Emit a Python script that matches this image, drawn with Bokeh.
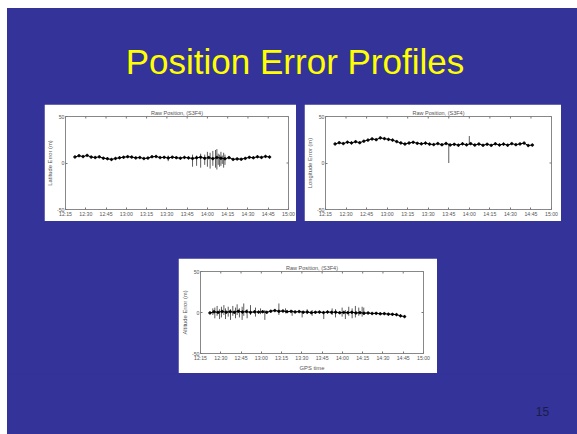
from math import pi
from bokeh.plotting import figure
from bokeh.layouts import column, row
from bokeh.models import Spacer, FixedTicker
from bokeh.embed import file_html
from bokeh.resources import INLINE
from bokeh.core.properties import value

# ---------------- data ----------------
slide_title = "Position Error Profiles"
panel_title = "Raw Position, (S3F4)"
page_number = "15"

# time in minutes after midnight
x_ticks = [735, 750, 765, 780, 795, 810, 825, 840, 855, 870, 885, 900]
x_tick_labels = ["12:15", "12:30", "12:45", "13:00", "13:15", "13:30",
                 "13:45", "14:00", "14:15", "14:30", "14:45", "15:00"]
y_ticks = [-50, 0, 50]
y_tick_labels = ["-50", "0", "50"]

times = [742, 745, 748, 751, 754, 757, 760, 763, 766, 769, 772, 775, 778,
         781, 784, 787, 790, 793, 796, 799, 802, 805, 808, 811, 814, 817,
         820, 823, 826, 829, 832, 835, 838, 841, 844, 847, 850, 853, 856,
         859, 862, 865, 868, 871, 874, 877, 880, 883, 886]

lat_err = [6.5, 7.8, 6.9, 8.2, 6.4, 5.9, 6.6, 5.2, 4.6, 3.8, 4.9, 5.6, 6.2,
           6.8, 6.4, 5.5, 5.9, 4.8, 5.3, 6.7, 7.0, 5.8, 6.1, 5.4, 6.3, 5.7,
           5.2, 6.0, 5.5, 4.9, 5.6, 6.2, 5.1, 5.8, 4.7, 5.9, 5.2, 4.6, 5.8,
           3.9, 4.4, 4.1, 5.0, 6.1, 5.6, 6.7, 6.0, 7.1, 6.4]
lat_spike_t = [811, 829, 832, 835, 838, 840, 842, 844, 846, 847, 848, 849,
               850, 851, 852, 853]
lat_spike_lo = [2, -4, -3, -5, -2, -4, -6, -3, -5, -7, -2, -4, -3, -1, -5, -2]
lat_spike_hi = [8, 9, 8, 10, 9, 12, 11, 13, 14, 15, 10, 9, 12, 8, 11, 9]

lon_err = [20.5, 21.8, 20.9, 22.4, 21.6, 22.9, 21.8, 23.5, 24.6, 25.9, 25.1,
           27.0, 26.2, 25.4, 24.6, 23.0, 21.6, 20.4, 21.5, 22.3, 21.2, 20.6,
           21.4, 20.3, 19.8, 20.9, 19.6, 21.0, 19.4, 20.1, 19.2, 20.6, 19.5,
           20.8, 19.3, 20.4, 19.1, 20.2, 19.0, 20.6, 19.4, 20.3, 19.2, 20.8,
           19.7, 20.5, 21.4, 18.8, 19.3]
lon_spike_t = [825, 840]
lon_spike_lo = [0, 20]
lon_spike_hi = [21, 29]

alt_err = [-0.5, 0.8, 0.2, 1.2, 0.4, 1.0, 0.3, 1.5, 0.6, 1.1, 0.2, 0.8, 0.5,
           0.9, 0.3, 1.6, 2.4, 1.5, 1.8, 1.0, 1.4, 0.7, 1.1, 0.4, 0.6, -0.2,
           0.3, 0.5, -0.1, 0.6, 0.2, 0.4, -0.3, 0.1, -0.2, 0.3, -0.5, -0.2,
           -0.8, -0.6, -1.2, -1.0, -1.6, -1.4, -2.0, -2.2, -2.6, -4.1, -5.0]
alt_spike_t = [744.1, 745.6, 747.3, 749.1, 750.5, 752.3, 753.5, 755.5, 757.2,
               758.9, 760.9, 762.1, 763.8, 765.8, 767.0, 769.5, 772.0, 775.7,
               779.4, 782.6, 793.0, 797.9, 802.8, 810.2, 813.9, 817.6, 826.2,
               832.4, 834.9, 839.8, 842.2, 844.7, 847.2, 849.6, 852.1, 854.6,
               855.8]
alt_spike_lo = [-3, -7, -4, -8, -6, -3, -8, -5, -9, -4, -7, -3, -6, -9, -4,
                -7, -3, -5, -2, -9, -3, -1, -4, -6, -2, -4, -8, -3, -6, -5,
                -8, -4, -7, -6, -4, -5, -3]
alt_spike_hi = [5, 6, 8, 4, 7, 9, 5, 7, 4, 8, 6, 10, 5, 7, 11, 4, 9, 6, 5, 3,
                11, 5, 3, 2, 4, 3, 1, 5, 4, 6, 3, 7, 5, 8, 6, 7, 6]

BLUE = "#333399"
FONT = "Liberation Sans"
GRAY = "#555555"
TICK = "#777777"


def blank_fig(w, h):
    f = figure(width=w, height=h, x_range=(0, w), y_range=(0, h),
               output_backend="svg", toolbar_location=None,
               min_border=0, title=None)
    f.axis.visible = False
    f.grid.visible = False
    f.outline_line_color = None
    f.background_fill_color = BLUE
    f.border_fill_color = BLUE
    return f


def make_sub(w, h, ylabel, t, v, st, slo, shi, borders, xlabel=None):
    bl, br, bt, bb = borders
    p = figure(width=w, height=h, x_range=(735, 900), y_range=(-50, 50),
               output_backend="svg", toolbar_location=None,
               min_border_left=bl, min_border_right=br,
               min_border_top=bt, min_border_bottom=bb,
               title=panel_title)
    p.background_fill_color = "white"
    p.border_fill_color = "white"
    p.outline_line_color = "#888888"
    p.grid.visible = False
    p.title.text_font = FONT
    p.title.text_font_size = "5.5px"
    p.title.text_font_style = "normal"
    p.title.text_color = GRAY
    p.title.align = "center"
    p.title.standoff = 1
    p.title.offset = 0

    for ax in (p.xaxis[0], p.yaxis[0]):
        ax.axis_line_color = None
        ax.major_tick_in = 2
        ax.major_tick_out = 0
        ax.major_tick_line_color = TICK
        ax.minor_tick_line_color = None
        ax.major_label_text_font = FONT
        ax.major_label_text_font_size = "5.2px"
        ax.major_label_text_color = GRAY
        ax.major_label_standoff = 1
        ax.axis_label_text_font = FONT
        ax.axis_label_text_font_size = "5.8px"
        ax.axis_label_text_font_style = "normal"
        ax.axis_label_text_color = GRAY
        ax.axis_label_standoff = 1
    p.xaxis[0].ticker = FixedTicker(ticks=x_ticks)
    p.xaxis[0].major_label_overrides = dict(zip(x_ticks, x_tick_labels))
    p.yaxis[0].ticker = FixedTicker(ticks=y_ticks)
    p.yaxis[0].major_label_overrides = dict(zip(y_ticks, y_tick_labels))
    p.yaxis[0].axis_label = ylabel
    if xlabel:
        p.xaxis[0].axis_label = xlabel

    # matlab-style tick marks on the top and right edges of the box
    p.scatter(x=x_ticks, y=[50] * len(x_ticks), marker="dash", angle=pi / 2,
              size=4, line_color=TICK, line_width=1)
    p.scatter(x=[900] * len(y_ticks), y=y_ticks, marker="dash",
              size=4, line_color=TICK, line_width=1)

    p.segment(x0=st, y0=slo, x1=st, y1=shi, color="#333333", line_width=0.8)
    p.line(t, v, color="black", line_width=1.0)
    p.scatter(t, v, marker="plus", size=2.5, color="black", line_width=0.8)
    return p


# title area
top = blank_fig(570, 96)
top.text(x=[287.5], y=[43], text=[slide_title], text_color="#FFFF00",
         text_font=value(FONT), text_font_size="35px",
         text_align="center", text_baseline="middle")

p1 = make_sub(252, 117, "Latitude Error (m)", times, lat_err,
              lat_spike_t, lat_spike_lo, lat_spike_hi, (21, 8, 12, 12))
p2 = make_sub(257, 117, "Longitude Error (m)", times, lon_err,
              lon_spike_t, lon_spike_lo, lon_spike_hi, (21, 10, 12, 12))
p3 = make_sub(259, 115, "Altitude Error (m)", times, alt_err,
              alt_spike_t, alt_spike_lo, alt_spike_hi, (22, 14, 13, 19),
              xlabel="GPS time")

bottom = blank_fig(570, 61)
bottom.text(x=[535], y=[23], text=[page_number], text_color="#1c1c4a",
            text_font=value(FONT), text_font_size="12px",
            text_align="center", text_baseline="middle")

sp = {"background-color": BLUE}
row2 = row(Spacer(width=37, height=117, styles=sp), p1,
           Spacer(width=8, height=117, styles=sp), p2,
           Spacer(width=16, height=117, styles=sp))
gap = Spacer(width=570, height=37, styles=sp)
row3 = row(Spacer(width=171, height=115, styles=sp), p3,
           Spacer(width=140, height=115, styles=sp))
slide = column(top, row2, gap, row3, bottom, styles=sp)

white = {"background-color": "white"}
page = column(Spacer(width=577, height=8, styles=white),
              row(Spacer(width=7, height=426, styles=white), slide,
                  styles=white),
              styles=white)

open("out.html", "w").write(file_html(page, INLINE))
